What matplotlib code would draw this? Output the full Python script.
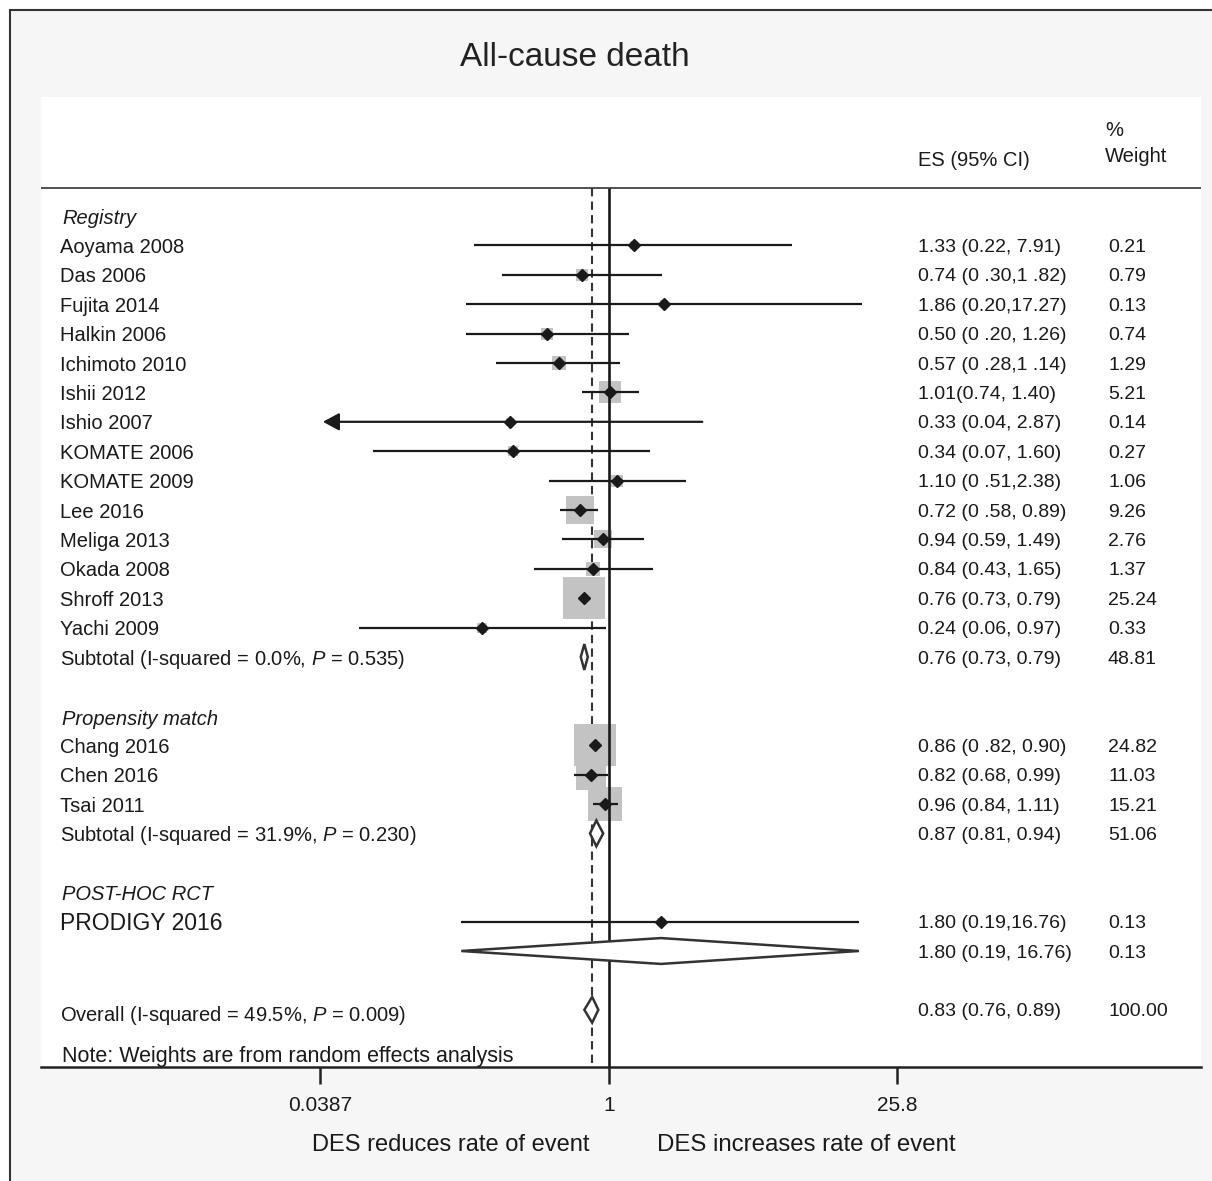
import matplotlib
matplotlib.use("Agg")
import matplotlib.pyplot as plt
from matplotlib.patches import Rectangle
from matplotlib.transforms import blended_transform_factory

plt.rcParams["font.family"] = ["Liberation Sans", "DejaVu Sans"]
plt.rcParams["mathtext.fontset"] = "custom"
plt.rcParams["mathtext.rm"] = "Liberation Sans"
plt.rcParams["mathtext.it"] = "Liberation Sans:italic"

# %% Data
registry_names = ["Aoyama 2008", "Das 2006", "Fujita 2014", "Halkin 2006", "Ichimoto 2010",
                  "Ishii 2012", "Ishio 2007", "KOMATE 2006", "KOMATE 2009", "Lee 2016",
                  "Meliga 2013", "Okada 2008", "Shroff 2013", "Yachi 2009"]
registry_es = [1.33, 0.74, 1.86, 0.50, 0.57, 1.01, 0.33, 0.34, 1.10, 0.72, 0.94, 0.84, 0.76, 0.24]
registry_lo = [0.22, 0.30, 0.20, 0.20, 0.28, 0.74, 0.04, 0.07, 0.51, 0.58, 0.59, 0.43, 0.73, 0.06]
registry_hi = [7.91, 1.82, 17.27, 1.26, 1.14, 1.40, 2.87, 1.60, 2.38, 0.89, 1.49, 1.65, 0.79, 0.97]
registry_wt = [0.21, 0.79, 0.13, 0.74, 1.29, 5.21, 0.14, 0.27, 1.06, 9.26, 2.76, 1.37, 25.24, 0.33]
registry_es_text = ["1.33 (0.22, 7.91)", "0.74 (0 .30,1 .82)", "1.86 (0.20,17.27)",
                    "0.50 (0 .20, 1.26)", "0.57 (0 .28,1 .14)", "1.01(0.74, 1.40)",
                    "0.33 (0.04, 2.87)", "0.34 (0.07, 1.60)", "1.10 (0 .51,2.38)",
                    "0.72 (0 .58, 0.89)", "0.94 (0.59, 1.49)", "0.84 (0.43, 1.65)",
                    "0.76 (0.73, 0.79)", "0.24 (0.06, 0.97)"]
registry_clipped = [False, False, False, False, False, False, True,
                    False, False, False, False, False, False, False]
registry_sub = (0.76, 0.73, 0.79, 48.81)
registry_sub_label = "Subtotal (I-squared = 0.0%, $\\mathit{P}$ = 0.535)"
registry_sub_text = "0.76 (0.73, 0.79)"

propensity_names = ["Chang 2016", "Chen 2016", "Tsai 2011"]
propensity_es = [0.86, 0.82, 0.96]
propensity_lo = [0.82, 0.68, 0.84]
propensity_hi = [0.90, 0.99, 1.11]
propensity_wt = [24.82, 11.03, 15.21]
propensity_es_text = ["0.86 (0 .82, 0.90)", "0.82 (0.68, 0.99)", "0.96 (0.84, 1.11)"]
propensity_sub = (0.87, 0.81, 0.94, 51.06)
propensity_sub_label = "Subtotal (I-squared = 31.9%, $\\mathit{P}$ = 0.230)"
propensity_sub_text = "0.87 (0.81, 0.94)"

posthoc_names = ["PRODIGY 2016"]
posthoc_es = [1.80]
posthoc_lo = [0.19]
posthoc_hi = [16.76]
posthoc_wt = [0.13]
posthoc_es_text = ["1.80 (0.19,16.76)"]
posthoc_sub = (1.80, 0.19, 16.76, 0.13)
posthoc_sub_text = "1.80 (0.19, 16.76)"

overall = (0.83, 0.76, 0.89, 100.00)
overall_label = "Overall (I-squared = 49.5%, $\\mathit{P}$ = 0.009)"
overall_text = "0.83 (0.76, 0.89)"

xticks = [0.0387, 1, 25.8]
xtick_labels = ["0.0387", "1", "25.8"]

# %% Figure layout (pixels of the 1212 x 1181 reference)
W, H = 1212, 1181
fig = plt.figure(figsize=(W / 100, H / 100), dpi=100, facecolor="white")
fig.patches.append(Rectangle((10 / W, -0.05), 1.1, 1 - 10 / H + 0.05, transform=fig.transFigure,
                             facecolor="#f6f6f6", edgecolor="#333333", lw=1.5, zorder=-5))

ax = fig.add_axes([41 / W, 1 - 1067 / H, (1201 - 41) / W, (1067 - 97) / H])
ax.set_zorder(1)
ax.set_facecolor("white")
ax.set_xscale("log")
ax.set_xlim(0.00167, 790)
ROW0, ROWH = 216, 29.4
ax.set_ylim((1067 - ROW0) / ROWH, (97 - ROW0) / ROWH)
for s in ["top", "left", "right"]:
    ax.spines[s].set_visible(False)
ax.spines["bottom"].set_linewidth(1.8)
ax.spines["bottom"].set_color("#222222")
ax.set_yticks([])
ax.minorticks_off()
ax.set_xticks(xticks)
ax.set_xticklabels(xtick_labels)
ax.tick_params(axis="x", which="major", length=12, width=1.8, color="#222222",
               labelsize=15, pad=9, labelcolor="#1a1a1a")
ax.tick_params(axis="x", which="minor", length=0)

INK = "#1a1a1a"
FS = 14.5
TDY = 0.07  # text sits a touch below the mark centre
tr = blended_transform_factory(fig.transFigure, ax.transData)
X_NAME, X_ES, X_WT = 60 / W, 918 / W, 1108 / W
header_row = (188 - ROW0) / ROWH
ybot = ax.get_ylim()[0]

ax.axhline(header_row, color="#333333", lw=1.2)
ax.vlines(1, header_row, ybot, color=INK, lw=1.9, zorder=6)
ax.vlines(overall[0], header_row, ybot, color="#333333", lw=1.5, linestyles=(0, (4, 2.5)), zorder=1)

def box_size(wt):
    # box side grows with sqrt(weight), plus a small floor (in points^2 for scatter)
    side_px = 7.5 * wt ** 0.5 + 5.2
    return (0.72 * side_px) ** 2

def study(row, name, es, lo, hi, wt, es_text, clipped=False, fs=FS):
    ax.scatter([es], [row], marker="s", s=box_size(wt), color="#c3c3c3", linewidths=0, zorder=2)
    if clipped:
        ax.annotate("", xy=(lo, row), xytext=(hi, row),
                    arrowprops=dict(arrowstyle="-|>,head_length=0.7,head_width=0.38",
                                    color=INK, lw=1.6, shrinkA=0, shrinkB=0, mutation_scale=14),
                    zorder=4)
    else:
        ax.hlines(row, lo, hi, color=INK, lw=1.6, zorder=4)
    ax.plot([es], [row], marker="D", ms=6.5, color=INK, zorder=5)
    ax.text(X_NAME, row + TDY, name, transform=tr, va="center", fontsize=fs, color=INK)
    ax.text(X_ES, row + TDY, es_text, transform=tr, va="center", fontsize=14, color=INK)
    ax.text(X_WT, row + TDY, f"{wt:.2f}", transform=tr, va="center", fontsize=14, color=INK)

def pooled(row, est, label, es_text, label_dy=TDY):
    es, lo, hi, wt = est
    h = 0.44
    ax.fill([lo, es, hi, es], [row, row - h, row, row + h], facecolor="white",
            edgecolor="#333333", lw=1.8, zorder=7)
    if label:
        ax.text(X_NAME, row + label_dy, label, transform=tr, va="center", fontsize=FS, color=INK)
    ax.text(X_ES, row + TDY, es_text, transform=tr, va="center", fontsize=14, color=INK)
    ax.text(X_WT, row + TDY, f"{wt:.2f}", transform=tr, va="center", fontsize=14, color=INK)

def heading(row, text):
    ax.text(62 / W, row + TDY, text, transform=tr, va="center", fontsize=FS, style="italic", color=INK)

# Registry
row = 0
heading(row, "Registry")
for i, n in enumerate(registry_names):
    row += 1
    study(row, n, registry_es[i], registry_lo[i], registry_hi[i], registry_wt[i],
          registry_es_text[i], registry_clipped[i])
row += 1
pooled(row, registry_sub, registry_sub_label, registry_sub_text)

# Propensity match
row += 2
heading(row + 0.05, "Propensity match")
for i, n in enumerate(propensity_names):
    row += 1
    study(row, n, propensity_es[i], propensity_lo[i], propensity_hi[i], propensity_wt[i],
          propensity_es_text[i])
row += 1
pooled(row, propensity_sub, propensity_sub_label, propensity_sub_text)

# Post-hoc RCT
row += 2
heading(row, "POST-HOC RCT")
for i, n in enumerate(posthoc_names):
    row += 1
    study(row, n, posthoc_es[i], posthoc_lo[i], posthoc_hi[i], posthoc_wt[i],
          posthoc_es_text[i], fs=16.5)
row += 1
pooled(row, posthoc_sub, None, posthoc_sub_text)

# Overall
row += 2
pooled(row, overall, overall_label, overall_text, label_dy=0.2)
ax.text(62 / W, row + 1.6, "Note: Weights are from random effects analysis", transform=tr,
        va="center", fontsize=15.5, color=INK)

# Column headers, title and axis captions
fig.text(918 / W, 1 - 161 / H, "ES (95% CI)", va="center", fontsize=FS, color=INK)
fig.text(1105 / W, 1 - 131 / H, "%", va="center", fontsize=FS, color=INK)
fig.text(1105 / W, 1 - 156 / H, "Weight", va="center", fontsize=FS, color=INK)
fig.text(575 / W, 1 - 57 / H, "All-cause death", ha="center", va="center", fontsize=24, color="#222222")
fig.text(590 / W, 1 - 1145 / H, "DES reduces rate of event", ha="right", va="center",
         fontsize=17, color=INK)
fig.text(657 / W, 1 - 1145 / H, "DES increases rate of event", ha="left", va="center",
         fontsize=17.3, color=INK)

fig.savefig("out.png", dpi=100, facecolor=fig.get_facecolor())
